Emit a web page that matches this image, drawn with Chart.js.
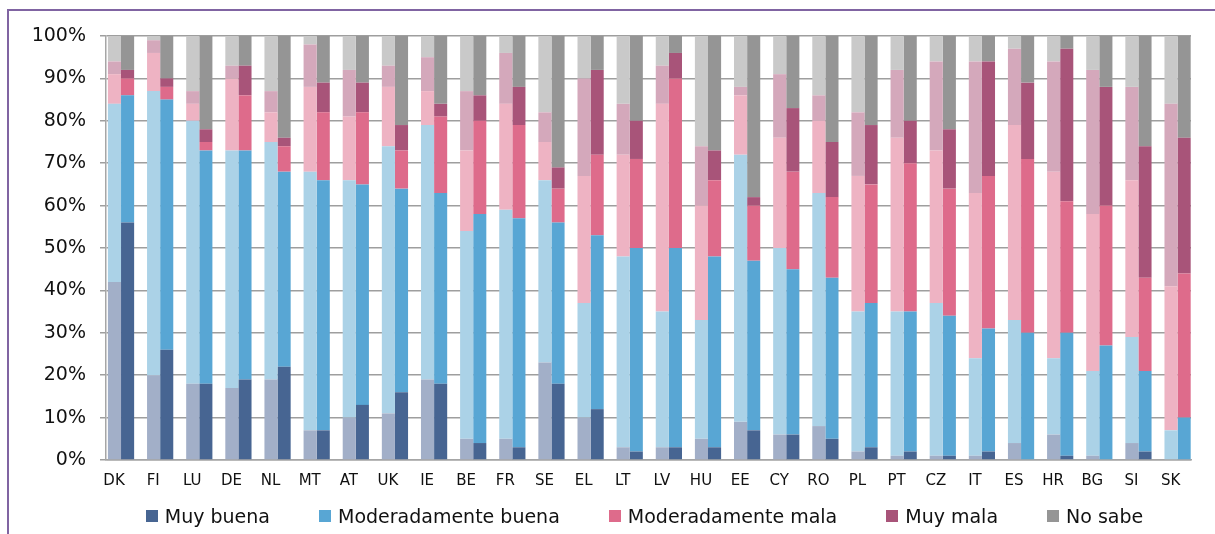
<!DOCTYPE html>
<html>
<head>
<meta charset="utf-8">
<script src="https://cdn.jsdelivr.net/npm/chart.js@4.4.1/dist/chart.umd.min.js"></script>
<style>
  body { margin: 0; background: #fff; }
  #wrap { position: relative; width: 1215px; height: 534px; overflow: hidden; }
  #frame {
    position: absolute; left: 7px; top: 9px; width: 1300px; height: 600px;
    border-left: 2px solid #8064a2; border-top: 2px solid #8064a2;
  }
  #myChart { position: absolute; left: 0; top: 0; }
  #legend {
    position: absolute; left: 102px; top: 505px; width: 1085px;
    display: flex; justify-content: center; gap: 49px;
    font-family: "DejaVu Sans", sans-serif; font-size: 19px; color: #111;
  }
  #legend span.item { display: flex; align-items: center; white-space: nowrap; }
  #legend span.box { display: inline-block; width: 12px; height: 12px; margin-right: 7px; }
</style>
</head>
<body>
<div id="wrap">
  <div id="frame"></div>
  <canvas id="myChart" width="1215" height="534"></canvas>
  <div id="legend"></div>
</div>
<script>
const countries = [
  "DK", "FI", "LU", "DE", "NL", "MT", "AT", "UK", "IE", "BE", "FR", "SE", "EL", "LT",
  "LV", "HU", "EE", "CY", "RO", "PL", "PT", "CZ", "IT", "ES", "HR", "BG", "SI", "SK",
];
const seriesNames = ["Muy buena", "Moderadamente buena", "Moderadamente mala", "Muy mala", "No sabe"];

// first survey (light bars)
const muyBuenaA = [42, 20, 18, 17, 19, 7, 10, 11, 19, 5, 5, 23, 10, 3, 3, 5, 9, 6, 8, 2, 1, 1, 1, 4, 6, 1, 4, 0];
const modBuenaA = [42, 67, 62, 56, 56, 61, 56, 63, 60, 49, 54, 43, 27, 45, 32, 28, 63, 44, 55, 33, 34, 36, 23, 29, 18, 20, 25, 7];
const modMalaA = [7, 9, 4, 17, 7, 20, 15, 14, 8, 19, 25, 9, 30, 24, 49, 27, 14, 26, 17, 32, 41, 36, 39, 46, 44, 37, 37, 34];
const muyMalaA = [3, 3, 3, 3, 5, 10, 11, 5, 8, 14, 12, 7, 23, 12, 9, 14, 2, 15, 6, 15, 16, 21, 31, 18, 26, 34, 22, 43];
const noSabeA = [6, 1, 13, 7, 13, 2, 8, 7, 5, 13, 4, 18, 10, 16, 7, 26, 12, 9, 14, 18, 8, 6, 6, 3, 6, 8, 12, 16];

// second survey (dark bars)
const muyBuenaB = [56, 26, 18, 19, 22, 7, 13, 16, 18, 4, 3, 18, 12, 2, 3, 3, 7, 6, 5, 3, 2, 1, 2, 0, 1, 0, 2, 0];
const modBuenaB = [30, 59, 55, 54, 46, 59, 52, 48, 45, 54, 54, 38, 41, 48, 47, 45, 40, 39, 38, 34, 33, 33, 29, 30, 29, 27, 19, 10];
const modMalaB = [4, 3, 2, 13, 6, 16, 17, 9, 18, 22, 22, 8, 19, 21, 40, 18, 13, 23, 19, 28, 35, 30, 36, 41, 31, 33, 22, 34];
const muyMalaB = [2, 2, 3, 7, 2, 7, 7, 6, 3, 6, 9, 5, 20, 9, 6, 7, 2, 15, 13, 14, 10, 14, 27, 18, 36, 28, 31, 32];
const noSabeB = [8, 10, 22, 7, 24, 11, 11, 21, 16, 14, 12, 31, 8, 20, 4, 27, 38, 17, 25, 21, 20, 22, 6, 11, 3, 12, 26, 24];

const darkColors = ["#476592", "#58a6d4", "#de6b8b", "#a85479", "#959595"];
const lightColors = ["#a2afc8", "#abd2e7", "#eeb3c3", "#d4a8bb", "#c9c9c9"];

function points(values) {
  return values.map((v, i) => ({ x: i, y: v }));
}

function makeDatasets() {
  const lightData = [muyBuenaA, modBuenaA, modMalaA, muyMalaA, noSabeA];
  const darkData = [muyBuenaB, modBuenaB, modMalaB, muyMalaB, noSabeB];
  let sets = [];
  lightData.forEach((vals, k) => {
    sets.push({
      label: seriesNames[k] + " (A)",
      data: points(vals),
      backgroundColor: lightColors[k],
      stack: "a",
    });
  });
  darkData.forEach((vals, k) => {
    sets.push({
      label: seriesNames[k],
      data: points(vals),
      backgroundColor: darkColors[k],
      stack: "b",
    });
  });
  return sets;
}

function drawChart() {
  const ctx = document.getElementById("myChart").getContext("2d");
  const chart = new Chart(ctx, {
    type: "bar",
    data: { datasets: makeDatasets() },
    options: {
      responsive: false,
      animation: false,
      layout: { padding: { left: 0, right: 24, top: 36, bottom: 44 } },
      datasets: {
        bar: { categoryPercentage: 0.67, barPercentage: 1, borderWidth: 0 },
      },
      scales: {
        x: {
          type: "linear",
          stacked: true,
          offset: false,
          min: -0.384,
          max: 27.343,
          grid: { display: false, drawTicks: false },
          border: { display: true, color: "#a6a6a6", width: 1.5 },
          ticks: {
            stepSize: 1,
            includeBounds: false,
            autoSkip: false,
            maxRotation: 0,
            padding: 12,
            labelOffset: -7,
            color: "#111",
            font: { family: "DejaVu Sans", size: 15 },
            callback: (v) => (Number.isInteger(v) && countries[v]) ? countries[v] : "",
          },
          afterFit: (s) => { s.height = 30; },
        },
        y: {
          stacked: true,
          min: 0,
          max: 100,
          z: 1,
          grid: { color: "rgba(125,125,125,0.75)", lineWidth: 1.5, tickLength: 6 },
          border: { display: true, color: "#a6a6a6", width: 1.5 },
          ticks: {
            stepSize: 10,
            padding: 14,
            color: "#111",
            font: { family: "DejaVu Sans", size: 19 },
            callback: (v) => v + "%",
          },
          afterFit: (s) => { s.width = 106; },
        },
      },
      plugins: {
        legend: { display: false },
        tooltip: { enabled: false },
      },
    },
  });

  // legend only for the dark series
  let legend = document.getElementById("legend");
  chart.data.datasets.filter((d) => d.stack == "b").forEach((d) => {
    let item = document.createElement("span");
    item.className = "item";
    let box = document.createElement("span");
    box.className = "box";
    box.style.background = d.backgroundColor;
    item.appendChild(box);
    item.appendChild(document.createTextNode(d.label));
    legend.appendChild(item);
  });
}

drawChart();
</script>
</body>
</html>
